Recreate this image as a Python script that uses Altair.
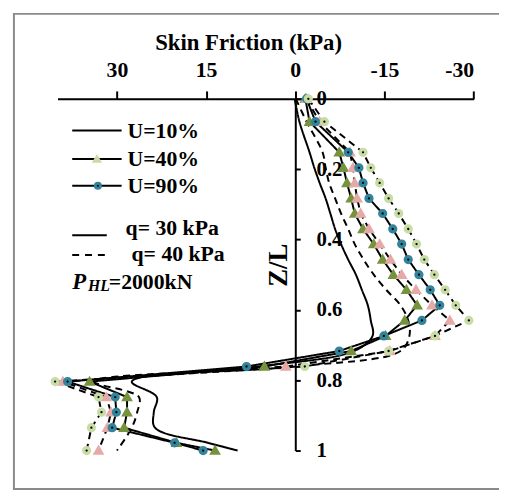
import altair as alt
import pandas as pd

# ---------------- data ----------------
Z = [0.0, 0.065, 0.152, 0.196, 0.239, 0.283, 0.326, 0.370, 0.413, 0.457, 0.500,
     0.543, 0.587, 0.630, 0.674, 0.717, 0.761, 0.804, 0.848, 0.891, 0.935, 0.978, 1.0]

U10_Q30 = [0.1, -0.7, -2.4, -3.2, -4.1, -5.1, -5.9, -6.7, -7.7, -8.9, -10.2,
           -11.2, -12.2, -12.7, -13.0, -9.9, 6.1, 27.5, 23.3, 23.8, 23.6, 14.7, 9.7]
U10_Q40 = [-0.1, -1.9, -4.6, -5.1, -5.7, -6.7, -7.7, -8.9, -10.0, -11.5, -13.2,
           -15.3, -17.7, -19.0, -19.2, -17.7, -0.2, 33.8, 26.3, 26.6, 27.5, None, 30.0]
U40_Q30 = [-1.7, -2.4, -7.4, -8.1, -8.7, -9.4, -10.0, -11.4, -13.2, -14.7, -16.5,
           -18.7, -20.5, -18.4, -15.2, -9.4, 5.2, 34.6, 28.3, 28.3, 28.8, 20.0, 13.5]
U40_Q40 = [-1.9, -4.1, -9.2, -9.7, -10.0, -10.4, -11.0, -12.4, -14.2, -16.0, -17.9,
           -20.3, -23.0, -26.0, -23.5, -15.9, 1.6, 39.1, 31.8, 31.0, 31.6, None, 33.1]
U90_Q30 = [-1.9, -3.4, -8.9, -10.7, -11.4, -12.4, -14.7, -16.4, -17.9, -19.0, -20.8,
           -22.7, -24.3, -21.3, -14.9, -7.4, 8.2, 38.3, 30.3, 30.1, 30.8, 20.3, 15.5]
U90_Q40 = [-2.2, -4.9, -11.4, -12.7, -14.2, -15.7, -17.4, -19.0, -20.4, -21.7, -23.4,
           -25.2, -27.0, -29.2, -23.5, -15.7, -1.6, 40.4, 33.1, 32.6, 34.3, None, 35.1]

X_TICKS = [30, 15, 0, -15, -30]
Y_TICKS = [0, 0.2, 0.4, 0.6, 0.8, 1]
U_LABELS = ["U=10%", "U=40%", "U=90%"]
Q_LABELS = ["q= 30 kPa", "q= 40 kPa"]
P_LABEL = ["P", "HL", "=2000kN"]

SERIES = [("U10_q30", 30, U10_Q30), ("U10_q40", 40, U10_Q40),
          ("U40_q30", 30, U40_Q30), ("U40_q40", 40, U40_Q40),
          ("U90_q30", 30, U90_Q30), ("U90_q40", 40, U90_Q40)]

rows = []
for name, q, vals in SERIES:
    for i, (z, v) in enumerate(zip(Z, vals)):
        if v is not None:
            rows.append({"series": name, "q": q, "z": z, "f": v, "i": i})
df = pd.DataFrame(rows)

# ---------------- styling ----------------
FONT = "Liberation Serif"
W, H = 491, 481
PADL, PADT = 6, 3

xs = alt.Scale(domain=[40, -30], range=[44.1, 465.3], nice=False, zero=False)
ys = alt.Scale(domain=[0, 1], range=[86, 442], nice=False, zero=False)

x_axis = alt.Axis(orient="top", values=X_TICKS, offset=-86, title="Skin Friction (kPa)",
                  labelExpr="'' + datum.value", tickSize=8, tickWidth=2, domainWidth=2,
                  domainColor="black", tickColor="black", grid=False,
                  labelFont=FONT, labelFontWeight="bold", labelFontSize=22, labelColor="black",
                  labelPadding=10, titleFont=FONT, titleFontWeight="bold", titleFontSize=23,
                  titleColor="black", titlePadding=4, titleX=237)
y_axis = alt.Axis(orient="right", values=Y_TICKS, offset=-(W - 284.8), title="Z/L",
                  labelExpr="'' + datum.value", tickSize=5, tickWidth=2, domainWidth=2,
                  domainColor="black", tickColor="black", grid=False,
                  labelFont=FONT, labelFontWeight="bold", labelFontSize=21, labelColor="black",
                  labelPadding=16, labelBaseline="middle",
                  titleFont=FONT, titleFontWeight="bold", titleFontSize=27, titleColor="black",
                  titleAngle=270, titleX=-17, titleY=254, titleAlign="center",
                  titleBaseline="middle")

X = alt.X("f:Q", scale=xs, axis=x_axis)
Y = alt.Y("z:Q", scale=ys, axis=y_axis)


def line_layer(names, dashed, interp):
    m = alt.Chart(df).transform_filter(
        alt.FieldOneOfPredicate(field="series", oneOf=names)
    ).mark_line(color="black", strokeWidth=2, interpolate=interp,
                strokeDash=[7, 5] if dashed else [1, 0])
    return m.encode(x=X, y=Y, detail="series:N", order="i:Q")


MARK_SERIES = ["U40_q30", "U40_q40", "U90_q30", "U90_q40"]
MARK_COLORS = ["#76923C", "#E6A9A7", "#31849B", "#C9DCA5"]
MARK_SHAPES = ["triangle-up", "triangle-up", "circle", "circle"]

points = alt.Chart(df).transform_filter(
    alt.FieldOneOfPredicate(field="series", oneOf=MARK_SERIES)
).mark_point(filled=True, size=34, strokeWidth=3.5, fill="black", opacity=1).encode(
    x=X, y=Y,
    stroke=alt.Stroke("series:N", scale=alt.Scale(domain=MARK_SERIES, range=MARK_COLORS), legend=None),
    shape=alt.Shape("series:N", scale=alt.Scale(domain=MARK_SERIES, range=MARK_SHAPES), legend=None),
)

one = pd.DataFrame({"k": [0]})


def txt(t, x, y, size=22, style="normal", align="left"):
    return alt.Chart(one).mark_text(font=FONT, fontWeight="bold", fontStyle=style, fontSize=size,
                                    align=align, baseline="middle", color="black").encode(
        x=alt.value(x), y=alt.value(y), text=alt.value(t))


def seg(x1, x2, y, dash=None):
    kw = dict(color="black", strokeWidth=2)
    if dash:
        kw["strokeDash"] = dash
    return alt.Chart(one).mark_rule(**kw).encode(x=alt.value(x1), x2=alt.value(x2), y=alt.value(y))


def mk(shape, color, x, y):
    return alt.Chart(one).mark_point(shape=shape, filled=True, fill="black", stroke=color,
                                     strokeWidth=3, size=26, opacity=1).encode(
        x=alt.value(x), y=alt.value(y))


legend = [
    seg(59, 109, 118), txt(U_LABELS[0], 115, 119),
    seg(59, 109, 147), mk("triangle-up", "#C9DCA5", 84, 147), txt(U_LABELS[1], 115, 147),
    seg(59, 109, 174), mk("circle", "#31849B", 85, 174), txt(U_LABELS[2], 115, 174),
    seg(59, 94, 224), txt(Q_LABELS[0], 113, 217, size=22),
    seg(59, 94, 244, [7, 6]), txt(Q_LABELS[1], 119, 243, size=22),
    txt(P_LABEL[0], 59, 271, size=23, style="italic"),
    txt(P_LABEL[1], 75, 275, size=16, style="italic"),
    txt(P_LABEL[2], 96, 271, size=22),
]

border = alt.Chart(one).mark_rect(fill=None, stroke="#8a8a8a", strokeWidth=2).encode(
    x=alt.value(0), x2=alt.value(W + 40), y=alt.value(0), y2=alt.value(H))

chart = alt.layer(
    line_layer(["U10_q30"], False, "catmull-rom"),
    line_layer(["U10_q40"], True, "catmull-rom"),
    line_layer(["U40_q30", "U90_q30"], False, "linear"),
    line_layer(["U40_q40", "U90_q40"], True, "linear"),
    points,
    border,
    *legend,
).properties(
    width=W, height=H, autosize="none",
    padding={"left": PADL, "top": PADT, "right": 0, "bottom": 0},
).configure_view(stroke=None)

chart.save("out.html", embed_options={"renderer": "svg", "actions": False})
